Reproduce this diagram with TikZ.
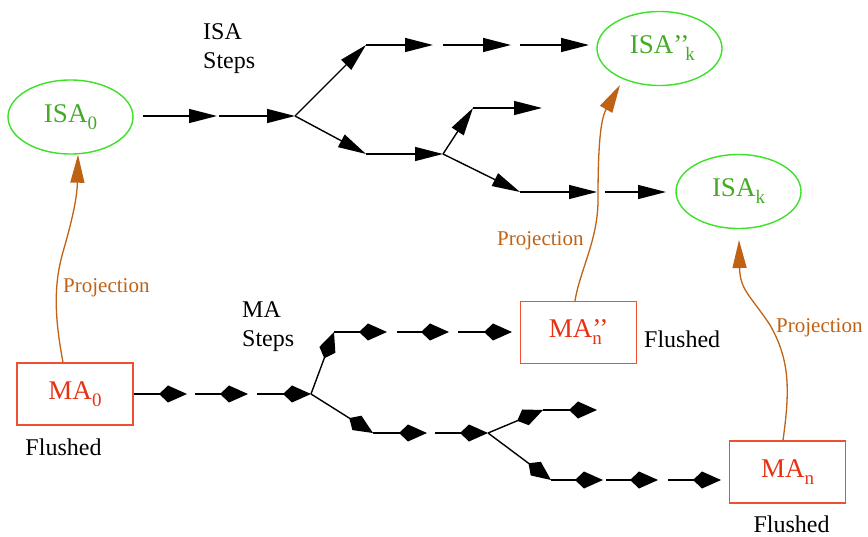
\documentclass[tikz,border=0pt]{standalone}
\usepackage{fontspec}
\setmainfont{Liberation Serif}
\usetikzlibrary{arrows.meta,shapes.geometric}
\definecolor{isaline}{RGB}{60,225,40}
\definecolor{isatext}{RGB}{70,170,40}
\definecolor{maline}{RGB}{240,80,50}
\definecolor{matext}{RGB}{230,50,20}
\definecolor{projcol}{RGB}{192,98,20}
% lowered index used in the state names
\newcommand\lowidx[1]{\raisebox{-7pt}{\fontsize{19}{19}\selectfont #1}}
\tikzset{
  isanode/.style={ellipse, draw=isaline, line width=1.4pt, text=isatext,
    minimum width=125pt, minimum height=74pt, inner sep=0pt,
    font=\fontsize{27}{27}\selectfont},
  manode/.style={rectangle, draw=maline, line width=1.4pt, text=matext,
    minimum width=116pt, minimum height=62pt, inner sep=0pt,
    font=\fontsize{27}{27}\selectfont},
  isastep/.style={-{Triangle[length=28pt,width=14pt]}, line width=1.4pt},
  mastep/.style={-{Kite[length=28pt,width=17pt,inset=9pt]}, line width=1.4pt},
  proj/.style={-{Triangle[length=28pt,width=14pt]}, draw=projcol, line width=1.3pt},
  projlabel/.style={text=projcol, font=\fontsize{21}{21}\selectfont,
    inner sep=0pt, anchor=base west},
  plain/.style={font=\fontsize{24}{29}\selectfont, inner sep=0pt},
}
\begin{document}
\begin{tikzpicture}[x=1pt, y=-1pt]
\useasboundingbox (0,0) rectangle (868,537);

% ISA states
\node[isanode] (ISAzero) at (70.5,117) {ISA\lowidx{0}};
\node[isanode] (ISAkk) at (659.5,48.5) {ISA\rlap{\hspace{12pt}\lowidx{k}}’’};
\node[isanode] (ISAk) at (738.5,191.5) {ISA\lowidx{k}};

% MA states
\node[manode] (MAzero) at (75,394) {MA\lowidx{0}};
\node[manode] (MAnn) at (578.5,332.5) {MA\rlap{\lowidx{n}}’’};
\node[manode] (MAn) at (787.5,472) {MA\lowidx{n}};

% ISA step points
\coordinate (t1e) at (217,116);
\coordinate (t2s) at (219,116);
\coordinate (B1) at (295,116);
\coordinate (U1) at (366,45);
\coordinate (u1e) at (433,45);
\coordinate (u2s) at (443,45);
\coordinate (u2e) at (511,45);
\coordinate (u3s) at (520,45);
\coordinate (u3e) at (589,45);
\coordinate (L1) at (366,154);
\coordinate (B2) at (443,154);
\coordinate (U2) at (473,108);
\coordinate (u4e) at (542,108);
\coordinate (L2) at (520,192);
\coordinate (l2e) at (597,192);
\coordinate (l3s) at (605,192);
\coordinate (l3e) at (666,192);

\draw[isastep] ([xshift=9]ISAzero.east |- t1e) -- (t1e);
\draw[isastep] (t2s) -- (B1);
\draw[isastep] (B1) -- (U1);
\draw[isastep] (U1) -- (u1e);
\draw[isastep] (u2s) -- (u2e);
\draw[isastep] (u3s) -- (u3e);
\draw[isastep] (B1) -- (L1);
\draw[isastep] (L1) -- (B2);
\draw[isastep] (B2) -- (U2);
\draw[isastep] (U2) -- (u4e);
\draw[isastep] (B2) -- (L2);
\draw[isastep] (L2) -- (l2e);
\draw[isastep] (l3s) -- (l3e);

% MA step points
\coordinate (m1e) at (187,394);
\coordinate (m2s) at (195,394);
\coordinate (m2e) at (248,394);
\coordinate (m3s) at (257,394);
\coordinate (D1) at (311,394);
\coordinate (V1) at (334,332);
\coordinate (v1e) at (387,332);
\coordinate (v2s) at (397,332);
\coordinate (v2e) at (449,332);
\coordinate (v3s) at (458,332);
\coordinate (v3e) at (512,332);
\coordinate (W1) at (373,433);
\coordinate (w1e) at (427,433);
\coordinate (w2s) at (435,433);
\coordinate (D2) at (488,433);
\coordinate (V2) at (543,410);
\coordinate (v4e) at (597,410);
\coordinate (W2) at (551,480);
\coordinate (w3e) at (603,480);
\coordinate (w4s) at (606,480);
\coordinate (w4e) at (658,480);
\coordinate (w5s) at (668,480);
\coordinate (w5e) at (721,480);

\draw[mastep] (MAzero.east) -- (m1e);
\draw[mastep] (m2s) -- (m2e);
\draw[mastep] (m3s) -- (D1);
\draw[mastep] (D1) -- (V1);
\draw[mastep] (V1) -- (v1e);
\draw[mastep] (v2s) -- (v2e);
\draw[mastep] (v3s) -- (v3e);
\draw[mastep] (D1) -- (W1);
\draw[mastep] (W1) -- (w1e);
\draw[mastep] (w2s) -- (D2);
\draw[mastep] (D2) -- (V2);
\draw[mastep] (V2) -- (v4e);
\draw[mastep] (D2) -- (W2);
\draw[mastep] (W2) -- (w3e);
\draw[mastep] (w4s) -- (w4e);
\draw[mastep] (w5s) -- (w5e);

% projections
\coordinate (pa) at (63,252);
\coordinate (pb) at (598,200);
\coordinate (pc) at (770,325);
\draw[proj] ([xshift=-12]MAzero.north) .. controls (53,310) and (55,280) .. (pa)
  .. controls (71,224) and (77,200) .. ([xshift=7.5]ISAzero.south);
\draw[proj] ([xshift=-3.5]MAnn.north) .. controls (580,270) and (598,240) .. (pb)
  .. controls (598,150) and (600,120) .. (620,85);
\draw[proj] ([xshift=-4.5]MAn.north) .. controls (790,390) and (790,360) .. (pc)
  .. controls (750,295) and (740,290) .. (739,240);

% labels
\node[plain, align=left, anchor=base west] (isasteps) at (203,69) {ISA\\Steps};
\node[plain, align=left, anchor=base west] (masteps) at (242,347) {MA\\Steps};
\node[plain, anchor=base] (fl0) at (63.5,455) {Flushed};
\node[plain, anchor=base west] (fl1) at (644,348) {Flushed};
\node[plain, anchor=base] (fl2) at (791.5,532) {Flushed};
\node[projlabel] (pl0) at (63,293) {Projection};
\node[projlabel] (pl1) at (497,246) {Projection};
\node[projlabel] (pl2) at (776,333) {Projection};
\end{tikzpicture}
\end{document}
